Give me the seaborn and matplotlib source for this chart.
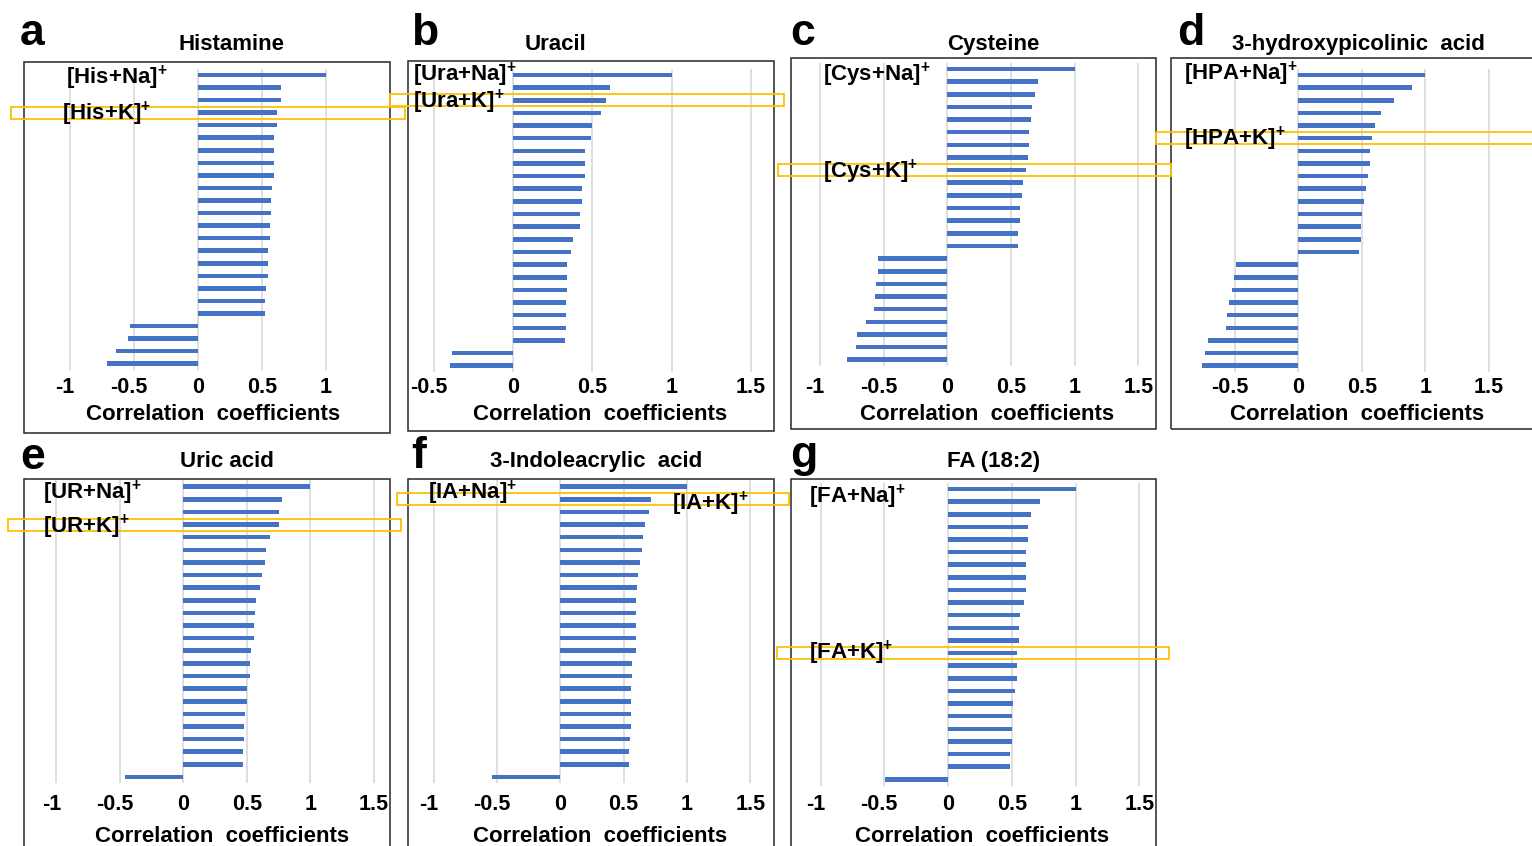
import numpy as np
import pandas as pd
import matplotlib
matplotlib.use("Agg")
import matplotlib.pyplot as plt
import matplotlib.transforms as mtransforms
from matplotlib.patches import Rectangle
import seaborn as sns

# ---------------- data (correlation coefficients, top bar first) ----------------
histamine = [1.0, 0.651, 0.651, 0.617, 0.617, 0.596, 0.596, 0.591, 0.591, 0.581, 0.570, 0.570,
             0.565, 0.560, 0.549, 0.544, 0.544, 0.531, 0.521, 0.521, -0.534, -0.544, -0.643, -0.714]
uracil = [1.0, 0.610, 0.587, 0.557, 0.496, 0.490, 0.456, 0.452, 0.452, 0.433, 0.433, 0.425,
          0.421, 0.381, 0.364, 0.343, 0.339, 0.339, 0.334, 0.334, 0.334, 0.330, -0.383, -0.400]
cysteine = [1.0, 0.711, 0.688, 0.661, 0.656, 0.643, 0.643, 0.633, 0.617, 0.596, 0.585, 0.567,
            0.567, 0.556, 0.556, -0.541, -0.541, -0.559, -0.564, -0.575, -0.635, -0.711, -0.717, -0.787]
hpa = [1.0, 0.892, 0.753, 0.651, 0.606, 0.580, 0.567, 0.562, 0.551, 0.530, 0.514, 0.501,
       0.496, 0.491, 0.475, -0.488, -0.509, -0.520, -0.549, -0.559, -0.570, -0.711, -0.732, -0.756]
uric_acid = [1.0, 0.774, 0.756, 0.751, 0.685, 0.648, 0.643, 0.619, 0.604, 0.570, 0.564, 0.559,
             0.559, 0.530, 0.528, 0.528, 0.504, 0.504, 0.488, 0.478, 0.478, 0.472, 0.467, -0.459]
indoleacrylic = [1.0, 0.716, 0.697, 0.671, 0.650, 0.645, 0.632, 0.616, 0.605, 0.600, 0.600, 0.600,
                 0.595, 0.595, 0.566, 0.566, 0.555, 0.555, 0.555, 0.555, 0.550, 0.545, 0.539, -0.539]
fa_18_2 = [1.0, 0.724, 0.648, 0.630, 0.630, 0.614, 0.614, 0.609, 0.609, 0.596, 0.567, 0.554,
           0.554, 0.544, 0.539, 0.539, 0.523, 0.512, 0.499, 0.499, 0.499, 0.484, 0.484, -0.497]

panel_letters = ["a", "b", "c", "d", "e", "f", "g"]
titles = ["Histamine", "Uracil", "Cysteine", "3-hydroxypicolinic  acid",
          "Uric acid", "3-Indoleacrylic  acid", "FA (18:2)"]
na_labels = ["[His+Na]", "[Ura+Na]", "[Cys+Na]", "[HPA+Na]", "[UR+Na]", "[IA+Na]", "[FA+Na]"]
k_labels = ["[His+K]", "[Ura+K]", "[Cys+K]", "[HPA+K]", "[UR+K]", "[IA+K]", "[FA+K]"]
k_rows = [3, 2, 8, 5, 3, 1, 13]          # bar index of the [M+K]+ ion
tick_sets = [[-1, -0.5, 0, 0.5, 1], [-0.5, 0, 0.5, 1, 1.5], [-1, -0.5, 0, 0.5, 1, 1.5],
             [-0.5, 0, 0.5, 1, 1.5], [-1, -0.5, 0, 0.5, 1, 1.5], [-1, -0.5, 0, 0.5, 1, 1.5],
             [-1, -0.5, 0, 0.5, 1, 1.5]]
series = [histamine, uracil, cysteine, hpa, uric_acid, indoleacrylic, fa_18_2]

# ---------------- layout (pixels) ----------------
W, H = 1532, 846
BLUE = "#4472C4"
GRID = "#D9D9D9"
YELLOW = "#FFC000"
FRAME = "#262626"

layout = [
    dict(zero=198, unit=128, row0=75, step=12.55, xlim=(-1.05, 1.35), box=(24, 62, 390, 433),
         letter=(20, 45), title=(232, 50), xlab=(213, 420), na=(66, 78), k=(62, 114), rect=(11, 405), tickb=393),
    dict(zero=513, unit=158.5, row0=75, step=12.64, xlim=(-0.55, 1.55), box=(408, 61, 774, 431),
         letter=(411, 45), title=(556, 50), xlab=(600, 420), na=(413, 75), k=(413, 102), rect=(390, 784), tickb=393),
    dict(zero=947.3, unit=127.4, row0=69, step=12.64, xlim=(-1.05, 1.57), box=(791, 58, 1156, 429),
         letter=(790, 45), title=(993, 50), xlab=(987, 420), na=(823, 75.5), k=(823, 172), rect=(778, 1171), tickb=393),
    dict(zero=1298.3, unit=127, row0=75, step=12.64, xlim=(-0.95, 1.75), box=(1171, 58, 1560, 429),
         letter=(1177, 45), title=(1358, 50), xlab=(1357, 420), na=(1184, 74), k=(1184, 139), rect=(1156, 1545), tickb=393),
    dict(zero=183.3, unit=127, row0=486.7, step=12.62, xlim=(-1.05, 1.57), box=(24, 479, 390, 870),
         letter=(20, 469), title=(227, 467), xlab=(222, 842), na=(43, 493), k=(43, 527), rect=(8, 401), tickb=810),
    dict(zero=560.3, unit=126.7, row0=486.7, step=12.62, xlim=(-1.05, 1.57), box=(408, 479, 774, 870),
         letter=(411, 468), title=(596, 467), xlab=(600, 842), na=(428, 493), k=(672, 504), rect=(397, 789), tickb=810),
    dict(zero=948, unit=127.5, row0=489, step=12.62, xlim=(-1.05, 1.57), box=(791, 479, 1156, 870),
         letter=(790, 467), title=(994, 467), xlab=(982, 842), na=(809, 497), k=(809, 653), rect=(777, 1169), tickb=810),
]

sns.set_style("white")
plt.rcParams["font.family"] = ["Liberation Sans", "DejaVu Sans"]
plt.rcParams["font.weight"] = "bold"
plt.rcParams["text.color"] = "black"
plt.rcParams["xtick.color"] = "black"
plt.rcParams["mathtext.fontset"] = "custom"
plt.rcParams["mathtext.rm"] = "Liberation Sans:bold"
plt.rcParams["mathtext.it"] = "Liberation Sans:bold"
plt.rcParams["mathtext.bf"] = "Liberation Sans:bold"

fig = plt.figure(figsize=(W / 100, H / 100), dpi=100)
fig.patch.set_facecolor("white")


def fx(px):
    return px / W


def fy(py):
    return 1 - py / H


neg_shift = mtransforms.ScaledTranslation(-5 / 100, 0, fig.dpi_scale_trans)

for i, vals in enumerate(series):
    L = layout[i]
    n = len(vals)
    top = L["row0"] - L["step"] / 2
    bottom = L["row0"] + (n - 1) * L["step"] + L["step"] / 2
    left = L["zero"] + L["xlim"][0] * L["unit"]
    right = L["zero"] + L["xlim"][1] * L["unit"]
    ax = fig.add_axes([fx(left), fy(bottom), (right - left) / W, (bottom - top) / H])

    df = pd.DataFrame({"feature": [f"m{j}" for j in range(n)], "r": vals})
    sns.barplot(data=df, x="r", y="feature", orient="h", color=BLUE, saturation=1,
                width=0.36, linewidth=0, edgecolor="none", ax=ax)
    ax.set_xlim(*L["xlim"])
    ax.set_ylim(n - 0.5, -0.5)
    ticks = tick_sets[i]
    ax.set_xticks(ticks)
    ax.set_xticklabels([f"{t:g}" for t in ticks])
    ax.set_yticks([])
    ax.set_xlabel("")
    ax.set_ylabel("")
    for s in ax.spines.values():
        s.set_visible(False)
    ax.grid(False)
    ax.xaxis.grid(True, color=GRID, lw=1.2)
    ax.set_axisbelow(True)
    ax.set_facecolor("none")
    pad_pt = (L["tickb"] - 15.7 - bottom) * 0.72
    ax.tick_params(axis="x", length=0, pad=pad_pt, labelsize=15.5, labelcolor="black")
    for t, lab in zip(ticks, ax.get_xticklabels()):
        lab.set_fontweight("bold")
        if t < 0:
            lab.set_transform(lab.get_transform() + neg_shift)

    # outer chart frame
    x0, y0, x1, y1 = L["box"]
    fig.add_artist(Rectangle((fx(x0), fy(y1)), (x1 - x0) / W, (y1 - y0) / H,
                             transform=fig.transFigure, fill=False, ec=FRAME, lw=1.1))

    # yellow highlight of the [M+K]+ row (under the text labels)
    blend = mtransforms.blended_transform_factory(fig.transFigure, ax.transData)
    rx0, rx1 = L["rect"]
    fig.add_artist(Rectangle((fx(rx0), k_rows[i] - 0.48), (rx1 - rx0) / W, 0.96,
                             transform=blend, fill=False, ec=YELLOW, lw=1.3, zorder=2))

    # texts
    fig.text(fx(L["letter"][0]), fy(L["letter"][1]), panel_letters[i], fontsize=32,
             fontweight="bold", ha="left", va="baseline")
    fig.text(fx(L["title"][0]), fy(L["title"][1]), titles[i], fontsize=16,
             fontweight="bold", ha="center", va="baseline")
    fig.text(fx(L["xlab"][0]), fy(L["xlab"][1]), "Correlation  coefficients", fontsize=16,
             fontweight="bold", ha="center", va="baseline")
    fig.text(fx(L["na"][0]), fy(L["na"][1] + 6), na_labels[i] + r"$^{+}$", fontsize=16,
             fontweight="bold", ha="left", va="baseline", zorder=4)
    fig.text(fx(L["k"][0]), fy(L["k"][1] + 6), k_labels[i] + r"$^{+}$", fontsize=16,
             fontweight="bold", ha="left", va="baseline", zorder=4)

fig.savefig("out.png", dpi=100, facecolor="white")
